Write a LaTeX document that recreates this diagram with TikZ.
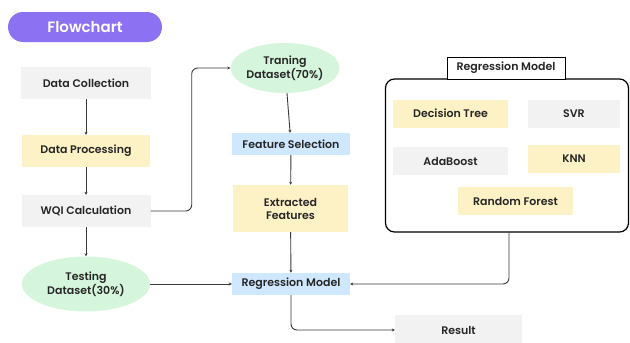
\documentclass[tikz,border=0pt]{standalone}
\usepackage{fontspec}
\setmainfont{Poppins}[UprightFont={* Medium}, BoldFont={* SemiBold}]
\usetikzlibrary{arrows.meta,shapes.geometric}
\definecolor{mygray}{HTML}{F2F2F2}
\definecolor{myyellow}{HTML}{FDF2C6}
\definecolor{myblue}{HTML}{CFE8FF}
\definecolor{mygreen}{HTML}{D5F6DC}
\definecolor{mypurple}{HTML}{8C72F2}
\definecolor{myline}{HTML}{3A3A3A}
\tikzset{
    every node/.style={font=\fontsize{11}{13}\selectfont\bfseries, align=center, text=black!85, inner sep=0pt},
    box/.style={rectangle, minimum width=#1},
    box/.default=128pt,
    gray/.style={fill=mygray, minimum height=32pt},
    yellow/.style={fill=myyellow, minimum height=32pt},
    blue/.style={fill=myblue, minimum height=22pt},
    green/.style={ellipse, fill=mygreen},
    model/.style={rectangle, minimum height=28pt},
    arr/.style={-{Stealth[length=3pt,width=3pt]}, myline, line width=0.9pt},
    elbow/.style={arr, rounded corners=6pt}
}

\begin{document}
\begin{tikzpicture}[x=1pt,y=-1pt]
\useasboundingbox (0,0) rectangle (630,343);

% title
\node[fill=mypurple, rounded corners=15pt, minimum width=154pt, minimum height=30pt,
      text=white, font=\fontsize{15}{17}\selectfont\bfseries] at (85,27) (title) {Flowchart};

% left column
\node[box=130pt,gray] at (86,83) (collect) {Data Collection};
\node[box,yellow] at (86,151) (process) {Data Processing};
\node[box=129pt,gray] at (86,211) (wqi) {WQI Calculation};
\node[green, minimum width=128pt, minimum height=55pt] at (86,284) (test) {Testing\\Dataset(30\%)};

% middle column
\node[green, minimum width=104pt, minimum height=50pt] at (285,68) (train) {Traning\\Dataset(70\%)};
\node[box=118pt,blue] at (291,144) (select) {Feature Selection};
\node[box=115pt,yellow, minimum height=47pt] at (290.5,208.5) (extract) {Extracted\\Features};
\node[box=118pt,blue] at (291,284) (regr) {Regression Model};
\node[box=127pt,gray, minimum height=30pt] at (458.5,330) (result) {Result};

% model group
\node[draw=black, line width=1.2pt, rounded corners=9pt, minimum width=243pt, minimum height=153pt] at (507,155.5) (group) {};
\node[draw=black, line width=0.8pt, fill=white, minimum width=118pt, minimum height=22pt] at (506,68) (grouptitle) {Regression Model};
\node[box=115pt,model,fill=myyellow] at (450.5,113.5) (dtree) {Decision Tree};
\node[box=92pt,model,fill=mygray] at (574,114) (svr) {SVR};
\node[box=115pt,model,fill=mygray] at (450.5,161) (ada) {AdaBoost};
\node[box=92pt,model,fill=myyellow] at (574,159) (knn) {KNN};
\node[box=115pt,model,fill=myyellow] at (515.5,201) (forest) {Random Forest};

% connectors
\draw[arr] (collect) -- (process);
\draw[arr] (process) -- (wqi);
\draw[arr] (wqi) -- (test);
\draw[elbow] (wqi.east) -- ++(41,0) |- (train.west);
\draw[arr] (train) -- (select);
\draw[arr] (select) -- (extract);
\draw[arr] (extract) -- (regr);
\draw[arr] (test.east) -- (regr.west);
\draw[elbow] ([xshift=2pt]group.south) |- (regr.east);
\draw[elbow] (regr.south) |- (result.west);
\end{tikzpicture}
\end{document}
